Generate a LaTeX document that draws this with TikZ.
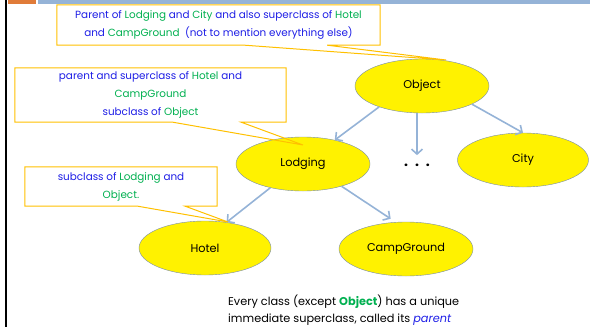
\documentclass[tikz,border=0pt]{standalone}
\usepackage{fontspec}
\setmainfont{Poppins}
\usetikzlibrary{shapes.geometric,arrows.meta}
\definecolor{noteblue}{RGB}{30,30,230}
\definecolor{notegreen}{RGB}{0,176,80}
\definecolor{noteorange}{RGB}{255,192,0}
\definecolor{arrowblue}{RGB}{149,179,215}
\definecolor{ovalline}{RGB}{120,140,170}
\definecolor{barorange}{RGB}{224,123,57}
\newcommand{\gr}[1]{\textcolor{notegreen}{#1}}
\tikzset{
  class/.style={ellipse, draw=ovalline, fill=yellow, minimum width=134, minimum height=54, inner sep=0pt, font=\fontsize{11.3}{12}\selectfont},
  link/.style={draw=arrowblue, line width=1.6pt, -{Straight Barb[length=5pt,width=11pt]}},
  note/.style={fill=white, inner sep=0pt, align=center, text=noteblue, font=\fontsize{10.4}{18}\selectfont},
  noteline/.style={draw=noteorange, line width=1pt},
}
\begin{document}
\begin{tikzpicture}[x=1pt, y=-1pt]
    \useasboundingbox (0,0) rectangle (590,327);
    % slide frame
    \fill[barorange] (8,0) rectangle (36,4);
    \fill[arrowblue] (38,0) rectangle (590,4);
    \fill[black] (5,0) rectangle (7,327);
    % classes
    \node(Object) [class] at (422,86) {Object};
    \node(Lodging) [class] at (303,164) {Lodging};
    \node(City) [class, minimum width=131] at (523,160) {City};
    \node(Hotel) [class, minimum width=132] at (205,248) {Hotel};
    \node(CampGround) [class] at (406,249) {CampGround};
    \node(dots) [font=\bfseries\fontsize{14}{14}\selectfont] at (417,165) {.\hspace{7pt}.\hspace{7pt}.};
    % links
    \draw[link] (Object.206) -- (Lodging.37);
    \draw[link, shorten >=5pt] (Object.south -| dots) -- (dots.north);
    \draw[link] (Object.-20) -- (City.north);
    \draw[link] (Lodging.216) -- (Hotel.50);
    \draw[link, shorten >=6pt] (Lodging.-30) -- (CampGround.111);
    % callouts
    \coordinate (t1) at (446,60);
    \coordinate (t2) at (303,145);
    \coordinate (t3) at (228,222);
    \node(n1) [note, minimum width=323, minimum height=40] at (218.5,25) {Parent of \gr{Lodging} and \gr{City} and also superclass of \gr{Hotel}\\ and \gr{CampGround}\ \ (not to mention everything else)};
    \draw[noteline] (n1.north west) -- (n1.north east) -- (n1.south east) -- ([xshift=-53]n1.south east) -- (t1) -- ([xshift=188]n1.south west) -- (n1.south west) -- cycle;
    \node(n2) [note, minimum width=271, minimum height=54] at (150.5,95) {parent and superclass of \gr{Hotel} and\\ \gr{CampGround}\\ subclass of \gr{Object}};
    \draw[noteline] (n2.north west) -- (n2.north east) -- (n2.south east) -- ([xshift=-45]n2.south east) -- (t2) -- ([xshift=158]n2.south west) -- (n2.south west) -- cycle;
    \node(n3) [note, minimum width=192, minimum height=39] at (121,186.5) {subclass of \gr{Lodging} and\\ \gr{Object.}};
    \draw[noteline] (n3.north west) -- (n3.north east) -- (n3.south east) -- ([xshift=-32]n3.south east) -- (t3) -- ([xshift=113]n3.south west) -- (n3.south west) -- cycle;
    % remark
    \node(rule) [anchor=north west, inner sep=0pt, align=left, font=\fontsize{11.3}{17.5}\selectfont] at (228,294.5) {Every class (except \textbf{\gr{Object}}) has a unique\\ immediate superclass, called its \textcolor{noteblue}{\itshape parent}};
\end{tikzpicture}
\end{document}
